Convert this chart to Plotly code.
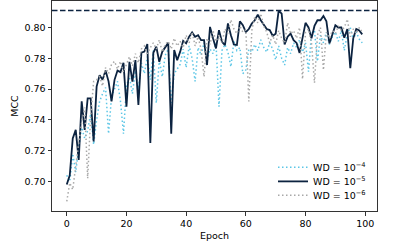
import plotly.graph_objects as go

epochs = list(range(100))

wd_1e4 = [0.704, 0.700, 0.718, 0.706, 0.722, 0.735, 0.728, 0.733, 0.744, 0.724,
          0.740, 0.752, 0.757, 0.761, 0.731, 0.755, 0.760, 0.765, 0.752, 0.731,
          0.762, 0.768, 0.757, 0.772, 0.760, 0.777, 0.770, 0.781, 0.766, 0.785,
          0.751, 0.779, 0.768, 0.782, 0.786, 0.751, 0.770, 0.773, 0.776, 0.786,
          0.774, 0.788, 0.780, 0.765, 0.787, 0.782, 0.790, 0.778, 0.786, 0.783,
          0.790, 0.7486, 0.785, 0.789, 0.784, 0.7745, 0.791, 0.785, 0.787, 0.770,
          0.7724, 0.786, 0.784, 0.789, 0.785, 0.792, 0.787, 0.784, 0.790, 0.786,
          0.779, 0.788, 0.780, 0.7756, 0.787, 0.783, 0.790, 0.787, 0.792, 0.784,
          0.790, 0.7713, 0.796, 0.798, 0.778, 0.795, 0.790, 0.797, 0.789, 0.794,
          0.797, 0.791, 0.798, 0.785, 0.796, 0.800, 0.792, 0.797, 0.7925, 0.790]

wd_1e5 = [0.698, 0.704, 0.728, 0.7335, 0.714, 0.752, 0.7335, 0.754, 0.754, 0.726,
          0.7616, 0.769, 0.766, 0.772, 0.765, 0.752, 0.766, 0.772, 0.771, 0.777,
          0.7486, 0.7777, 0.7648, 0.7788, 0.7497, 0.7836, 0.7843, 0.7892, 0.725, 0.7836,
          0.7875, 0.7777, 0.7843, 0.787, 0.790, 0.731, 0.7853, 0.7788, 0.7843, 0.7913,
          0.7897, 0.794, 0.7968, 0.794, 0.795, 0.7918, 0.7918, 0.7756, 0.8004, 0.793,
          0.7864, 0.7983, 0.7907, 0.7885, 0.8026, 0.795, 0.789, 0.7886, 0.804, 0.8015,
          0.797, 0.799, 0.8026, 0.8047, 0.8084, 0.8047, 0.8015, 0.799, 0.7983, 0.7946,
          0.796, 0.811, 0.809, 0.789, 0.794, 0.796, 0.7918, 0.790, 0.7835, 0.793,
          0.803, 0.800, 0.793, 0.801, 0.8047, 0.8047, 0.8075, 0.804, 0.7896, 0.7955,
          0.8015, 0.800, 0.800, 0.7933, 0.799, 0.7735, 0.793, 0.799, 0.798, 0.7955]

wd_1e6 = [0.687, 0.699, 0.6947, 0.712, 0.725, 0.738, 0.748, 0.702, 0.742, 0.765,
          0.766, 0.768, 0.762, 0.774, 0.770, 0.776, 0.778, 0.773, 0.778, 0.771,
          0.776, 0.781, 0.775, 0.783, 0.777, 0.786, 0.788, 0.783, 0.787, 0.790,
          0.786, 0.792, 0.784, 0.789, 0.791, 0.786, 0.793, 0.788, 0.791, 0.787,
          0.795, 0.790, 0.797, 0.788, 0.794, 0.786, 0.768, 0.793, 0.789, 0.798,
          0.791, 0.795, 0.790, 0.799, 0.796, 0.805, 0.799, 0.796, 0.801, 0.797,
          0.7985, 0.752, 0.798, 0.807, 0.803, 0.809, 0.801, 0.797, 0.790, 0.795,
          0.789, 0.798, 0.793, 0.790, 0.803, 0.796, 0.798, 0.793, 0.800, 0.7665,
          0.797, 0.799, 0.790, 0.764, 0.795, 0.800, 0.7724, 0.797, 0.793, 0.798,
          0.796, 0.801, 0.798, 0.800, 0.8054, 0.794, 0.799, 0.796, 0.800, 0.797]

series_names = ["WD = 10<sup>−4</sup>", "WD = 10<sup>−5</sup>", "WD = 10<sup>−6</sup>"]
x_ticks = [0, 20, 40, 60, 80, 100]
y_ticks = [0.70, 0.72, 0.74, 0.76, 0.78, 0.80]

best = max(wd_1e5)

fig = go.Figure()
fig.add_trace(go.Scatter(x=epochs, y=wd_1e4, mode="lines", name=series_names[0], legend="legend",
                         line=dict(color="#5cc6e6", width=1.5, dash="1.5px,2.5px")))
fig.add_trace(go.Scatter(x=epochs, y=wd_1e5, mode="lines", name=series_names[1], legend="legend2",
                         line=dict(color="#0c2340", width=1.8)))
fig.add_trace(go.Scatter(x=epochs, y=wd_1e6, mode="lines", name=series_names[2], legend="legend3",
                         line=dict(color="#a8a8a8", width=1.5, dash="1.5px,2.5px")))

fig.add_shape(type="line", xref="paper", x0=0, x1=1, yref="y", y0=best, y1=best,
              line=dict(color="#0c2340", width=1.5, dash="5.5px,2.5px"))

axis_common = dict(showgrid=False, zeroline=False, showline=True, linecolor="#333333",
                   linewidth=1, mirror=True, ticks="outside", ticklen=3.5, tickwidth=0.8,
                   tickcolor="#333333", automargin=False,
                   tickfont=dict(family="DejaVu Sans", size=9.5, color="black"))

def legend_at(ypos):
    return dict(x=0.68, y=ypos, xanchor="left", yanchor="middle",
                bgcolor="rgba(255,255,255,0)", borderwidth=0,
                font=dict(family="DejaVu Sans", size=9.5, color="black"),
                itemwidth=30)

fig.update_layout(
    width=419, height=247,
    margin=dict(l=52, r=42, t=1, b=36),
    paper_bgcolor="white", plot_bgcolor="white",
    font=dict(family="DejaVu Sans", size=9.5, color="black"),
    showlegend=True,
    legend=legend_at(0.208),
    legend2=legend_at(0.141),
    legend3=legend_at(0.075),
    xaxis=dict(range=[-4.95, 103.95], tickvals=x_ticks, ticktext=[str(v) for v in x_ticks],
               title=dict(text="Epoch", standoff=4, font=dict(size=9.5)), **axis_common),
    yaxis=dict(range=[0.6808, 0.8172], tickvals=y_ticks, ticktext=[f"{v:.2f}" for v in y_ticks],
               title=dict(text="MCC", standoff=4, font=dict(size=9.5)), **axis_common),
)

fig.write_html("out.html", config={"displayModeBar": False},
               post_script="document.body.style.margin='0';document.body.style.overflow='hidden';")
